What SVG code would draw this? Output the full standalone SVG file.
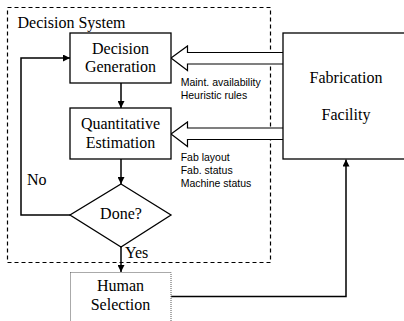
<svg xmlns="http://www.w3.org/2000/svg" width="404" height="321" viewBox="0 0 404 321">
<style>
.tr{font-family:"Liberation Serif","Times New Roman",serif;font-size:16px;fill:#000}
.sm{font-family:"Liberation Sans",Arial,sans-serif;font-size:10.5px;fill:#000}
.box{fill:#fff;stroke:#000;stroke-width:1.3}
.ln{fill:none;stroke:#000;stroke-width:1.5}
.blk{fill:#fff;stroke:#000;stroke-width:1.2}
</style>
<defs>
<marker id="ah" viewBox="0 0 10 10" refX="10" refY="5" markerWidth="7" markerHeight="7" markerUnits="userSpaceOnUse" orient="auto">
<path d="M0,0 L10,5 L0,10 z" fill="#000"/>
</marker>
</defs>
<rect width="404" height="321" fill="#fff"/>
<g id="decision-system">
<rect x="7.5" y="7.5" width="263" height="255" fill="none" stroke="#000" stroke-width="1.2" stroke-dasharray="4,3"/>
<text class="tr" x="17.5" y="28">Decision System</text>
</g>
<g id="connectors">
<path class="ln" d="M121,83 V108" marker-end="url(#ah)"/>
<path class="ln" d="M121,159 V184" marker-end="url(#ah)"/>
<path class="ln" d="M70,215 H21 V58 H70" marker-end="url(#ah)"/>
<path class="ln" d="M121,247 V272" marker-end="url(#ah)"/>
<path class="ln" d="M171,296.5 H346 V159.5" marker-end="url(#ah)"/>
<path class="blk" d="M283,52.5 H187.5 V46 L171,58 L187.5,70.5 V64 H283"/>
<path class="blk" d="M283,128 H187.5 V122 L171,134 L187.5,146.5 V139.5 H283"/>
<text class="tr" x="27" y="185">No</text>
<text class="tr" x="125" y="257.5">Yes</text>
<text class="sm"><tspan x="180.7" y="86">Maint. availability</tspan><tspan x="180.7" y="99">Heuristic rules</tspan></text>
<text class="sm"><tspan x="180.7" y="161">Fab layout</tspan><tspan x="180.7" y="174">Fab. status</tspan><tspan x="180.7" y="187">Machine status</tspan></text>
</g>
<g id="decision-generation" text-anchor="middle">
<rect class="box" x="70" y="33" width="101" height="50"/>
<text class="tr" x="120.5" y="53.5">Decision</text>
<text class="tr" x="120.5" y="72">Generation</text>
</g>
<g id="quantitative-estimation" text-anchor="middle">
<rect class="box" x="70" y="108" width="101" height="51"/>
<text class="tr" x="120.5" y="128.5">Quantitative</text>
<text class="tr" x="120.5" y="147.5">Estimation</text>
</g>
<g id="done" text-anchor="middle">
<path class="box" d="M121,184 L171,215 L121,247 L70,215 Z"/>
<text class="tr" x="121" y="218.5">Done?</text>
</g>
<g id="human-selection" text-anchor="middle">
<rect x="70.5" y="272.5" width="100.5" height="52" fill="#fff" stroke="#555" stroke-width="1" stroke-dasharray="1,1"/>
<text class="tr" x="120.5" y="291">Human</text>
<text class="tr" x="120.5" y="310">Selection</text>
</g>
<g id="fabrication-facility" text-anchor="middle">
<rect class="box" x="283" y="33" width="122" height="126"/>
<text class="tr" x="346" y="82.5">Fabrication</text>
<text class="tr" x="346" y="119.5">Facility</text>
</g>
</svg>
